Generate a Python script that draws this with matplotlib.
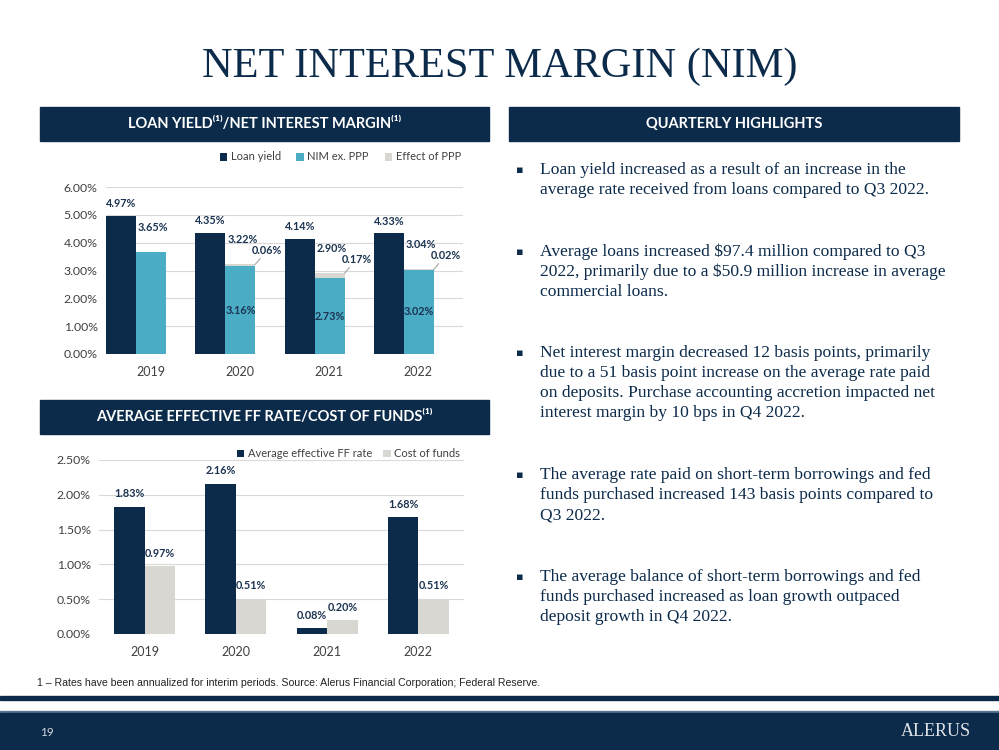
import matplotlib
matplotlib.use("Agg")
from matplotlib import pyplot as plt
from matplotlib.patches import Rectangle
import numpy as np

# ---- data ----
years = ["2019", "2020", "2021", "2022"]
loan_yield = [4.97, 4.35, 4.14, 4.33]
nim_ex_ppp = [3.65, 3.16, 2.73, 3.02]
effect_ppp = [0.00, 0.06, 0.17, 0.02]

ff_rate = [1.83, 2.16, 0.08, 1.68]
cost_of_funds = [0.97, 0.51, 0.20, 0.51]

top_ticks = [0, 1, 2, 3, 4, 5, 6]
bottom_ticks = [0, 0.5, 1.0, 1.5, 2.0, 2.5]

highlights = [
    ["Loan yield increased as a result of an increase in the",
     "average rate received from loans compared to Q3 2022."],
    ["Average loans increased $97.4 million compared to Q3",
     "2022, primarily due to a $50.9 million increase in average",
     "commercial loans."],
    ["Net interest margin decreased 12 basis points, primarily",
     "due to a 51 basis point increase on the average rate paid",
     "on deposits. Purchase accounting accretion impacted net",
     "interest margin by 10 bps in Q4 2022."],
    ["The average rate paid on short-term borrowings and fed",
     "funds purchased increased 143 basis points compared to",
     "Q3 2022."],
    ["The average balance of short-term borrowings and fed",
     "funds purchased increased as loan growth outpaced",
     "deposit growth in Q4 2022."],
]

NAVY = "#0c2b4b"
CYAN = "#4bacc6"
LGREY = "#d9d7d2"
LABEL = "#1b3350"
TICK = "#404040"
SANS = ["Lato", "DejaVu Sans"]
SERIF = ["Liberation Serif", "DejaVu Serif"]

W, H = 999, 750
fig = plt.figure(figsize=(9.99, 7.5), dpi=100)


def fx(px):
    return px / W


def fy(py):
    return 1 - py / H


def box(x0, y0, x1, y1, color):
    fig.patches.append(Rectangle((fx(x0), fy(y1)), fx(x1 - x0), (y1 - y0) / H,
                                 transform=fig.transFigure, color=color, zorder=0))


# title
fig.text(0.5, fy(67), "NET INTEREST MARGIN (NIM)", ha="center", va="center",
         fontsize=30.5, color=NAVY, family=SERIF)

# section headers
box(40, 107, 489, 141, NAVY)
box(509, 107, 959, 141, NAVY)
box(40, 400, 489, 434, NAVY)
hdr = dict(ha="center", va="center", color="white", fontsize=10.5,
           fontweight="bold", family=SANS)
fig.text(fx(264.5), fy(124), "LOAN YIELD⁽¹⁾/NET INTEREST MARGIN⁽¹⁾", **hdr)
fig.text(fx(734), fy(124), "QUARTERLY HIGHLIGHTS", **hdr)
fig.text(fx(264.5), fy(417), "AVERAGE EFFECTIVE FF RATE/COST OF FUNDS⁽¹⁾", **hdr)

# highlights
starts = [170, 252, 353, 475, 577]
for y0, lines in zip(starts, highlights):
    fig.text(fx(520), fy(y0), "▪", ha="center", va="center", color=NAVY,
             fontsize=8, family=["DejaVu Sans"])
    for i, ln in enumerate(lines):
        fig.text(fx(540), fy(y0 + 20 * i), ln, ha="left", va="center",
                 color=NAVY, fontsize=12.6, family=SERIF)


def style_axes(ax, ticks):
    for s in ax.spines.values():
        s.set_visible(False)
    ax.set_yticks(ticks)
    ax.set_yticklabels([f"{t:.2f}%" for t in ticks], fontsize=8.8, color=TICK, family=SANS)
    ax.yaxis.grid(True, color="#d9d9d9", linewidth=0.8)
    ax.set_axisbelow(True)
    ax.tick_params(length=0, pad=6)
    ax.set_xlim(-0.5, 3.5)
    ax.set_xticks(np.arange(4))
    ax.set_xticklabels(years, fontsize=9, color=TICK, family=SANS)
    ax.tick_params(axis="x", pad=9)


# ---- top chart ----
ax1 = fig.add_axes([fx(106), fy(354), fx(463 - 106), (354 - 187) / H])
x = np.arange(len(years))
bw = 0.335
b_loan = ax1.bar(x - 0.33, loan_yield, bw, color=NAVY, label="Loan yield")
b_nim = ax1.bar(x + 0.005, nim_ex_ppp, bw, color=CYAN, label="NIM ex. PPP")
b_eff = ax1.bar(x + 0.005, effect_ppp, bw, bottom=nim_ex_ppp, color=LGREY, label="Effect of PPP")
ax1.set_ylim(0, 6)
style_axes(ax1, top_ticks)
lbl = dict(ha="center", va="center", fontsize=7.8, fontweight="bold", color=LABEL, family=SANS)
for i in range(len(years)):
    ax1.annotate(f"{loan_yield[i]:.2f}%", (x[i] - 0.33, loan_yield[i]),
                 xytext=(0, 12), textcoords="offset pixels", **lbl)
    total = nim_ex_ppp[i] + effect_ppp[i]
    ax1.annotate(f"{total:.2f}%", (x[i] + 0.03, total + 0.9), **lbl)
    if effect_ppp[i] > 0:
        ax1.annotate(f"{nim_ex_ppp[i]:.2f}%", (x[i] + 0.005, nim_ex_ppp[i] / 2), **lbl)
        ax1.annotate(f"{effect_ppp[i]:.2f}%", (x[i] + 0.005 + bw / 2, total),
                     xytext=(12, 14), textcoords="offset pixels",
                     arrowprops=dict(arrowstyle="-", color="#a6a6a6", lw=0.8,
                                     shrinkA=0, shrinkB=0), **lbl)
fig.legend(handles=[b_loan, b_nim, b_eff], loc="center left",
           bbox_to_anchor=(fx(214), fy(157)), ncol=3, frameon=False,
           handlelength=0.7, handleheight=0.7, handletextpad=0.3,
           columnspacing=1.4, borderpad=0, prop={"family": SANS, "size": 8.0},
           labelcolor=TICK)

# ---- bottom chart ----
ax2 = fig.add_axes([fx(99), fy(634), fx(464 - 99), (634 - 460) / H])
b_ff = ax2.bar(x - 0.167, ff_rate, bw, color=NAVY, label="Average effective FF rate")
b_cf = ax2.bar(x + 0.167, cost_of_funds, bw, color=LGREY, label="Cost of funds")
ax2.set_ylim(0, 2.5)
style_axes(ax2, bottom_ticks)
for i in range(len(years)):
    ax2.annotate(f"{ff_rate[i]:.2f}%", (x[i] - 0.167, ff_rate[i]),
                 xytext=(0, 13), textcoords="offset pixels", **lbl)
    ax2.annotate(f"{cost_of_funds[i]:.2f}%", (x[i] + 0.167, cost_of_funds[i]),
                 xytext=(0, 13), textcoords="offset pixels", **lbl)
fig.legend(handles=[b_ff, b_cf], loc="center left",
           bbox_to_anchor=(fx(231), fy(454)), ncol=2, frameon=False,
           handlelength=0.7, handleheight=0.7, handletextpad=0.3,
           columnspacing=1.0, borderpad=0, prop={"family": SANS, "size": 8.0},
           labelcolor=TICK)

# footnote
fig.text(fx(37), fy(683),
         "1 – Rates have been annualized for interim periods. Source: Alerus Financial Corporation; Federal Reserve.",
         ha="left", va="center", fontsize=7.55, color="#222222",
         family=["Liberation Sans Narrow", "Liberation Sans"])

# footer
box(0, 696, W, 700, NAVY)
box(0, 711, W, 713, "#5a7690")
box(0, 713, W, H, NAVY)
fig.text(fx(47), fy(732), "19", ha="center", va="center", fontsize=8.5,
         color="#d0d6dd", family=SANS)
fig.text(fx(936), fy(732), "ALERUS", ha="center", va="center", fontsize=13,
         color="#dfe3e8", family=SERIF)

fig.savefig("out.png", dpi=100)
